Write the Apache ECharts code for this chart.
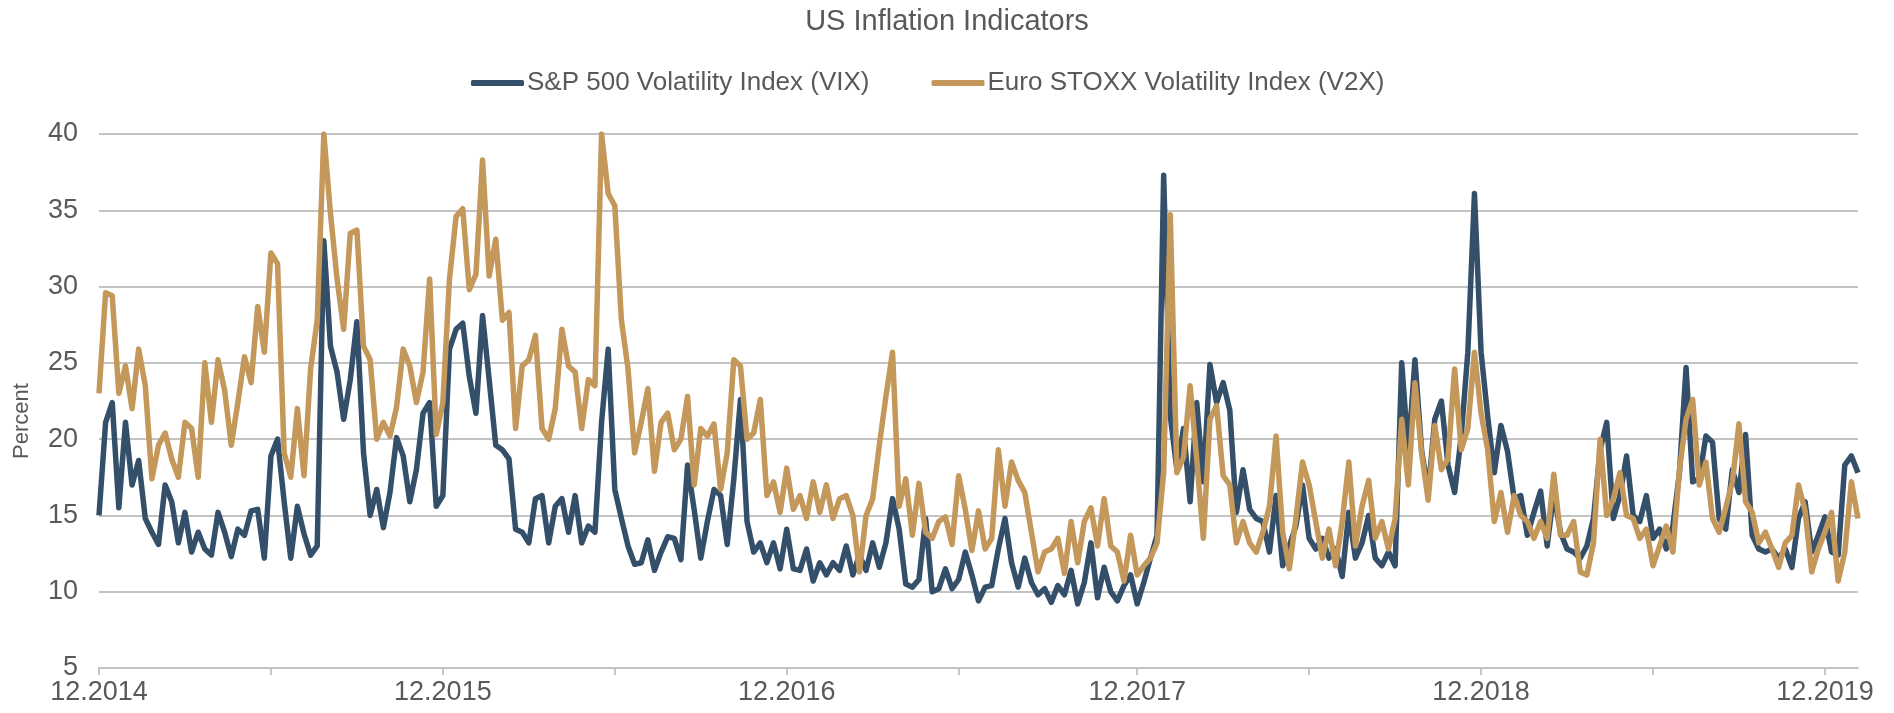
<!DOCTYPE html>
<html>
<head>
<meta charset="utf-8">
<title>US Inflation Indicators</title>
<script src="https://cdn.jsdelivr.net/npm/echarts@6/dist/echarts.min.js"></script>
<style>
  html, body { margin: 0; padding: 0; background: #fff; }
  #chart { width: 1894px; height: 713px; }
</style>
</head>
<body>
<div id="chart"></div>
<script>
// weekly closes, end of Dec 2014 to end of Jan 2020
const vix = [
  15.0, 21.1, 22.4, 15.5, 21.1, 17.0, 18.6, 14.8, 13.9, 13.1,
  17.0, 15.9, 13.2, 15.2, 12.6, 13.9, 12.8, 12.4, 15.2, 13.9,
  12.3, 14.1, 13.7, 15.3, 15.4, 12.2, 18.9, 20.0, 15.9, 12.2,
  15.6, 13.8, 12.4, 13.0, 33.0, 26.1, 24.4, 21.3, 23.9, 27.7,
  19.1, 15.0, 16.7, 14.2, 16.5, 20.1, 18.9, 15.9, 18.0, 21.7,
  22.4, 15.6, 16.3, 25.9, 27.2, 27.6, 24.1, 21.7, 28.1, 23.9,
  19.6, 19.3, 18.7, 14.1, 13.9, 13.2, 16.1, 16.3, 13.2, 15.6,
  16.1, 13.9, 16.3, 13.2, 14.3, 13.9, 21.1, 25.9, 16.7, 14.8,
  13.0, 11.8, 11.9, 13.4, 11.4, 12.6, 13.6, 13.5, 12.1, 18.3,
  15.4, 12.2, 14.6, 16.7, 16.3, 13.1, 17.4, 22.6, 14.6, 12.6,
  13.2, 11.9, 13.2, 11.5, 14.1, 11.5, 11.4, 12.8, 10.7, 11.9,
  11.1, 11.9, 11.4, 13.0, 11.1, 12.4, 11.4, 13.2, 11.6, 13.2,
  16.1, 14.1, 10.5, 10.3, 10.8, 14.8, 10.0, 10.2, 11.5, 10.2,
  10.8, 12.6, 11.1, 9.4, 10.3, 10.4, 12.8, 14.8, 11.9, 10.3,
  12.2, 10.6, 9.8, 10.2, 9.3, 10.4, 9.8, 11.4, 9.2, 10.6,
  13.2, 9.6, 11.6, 10.0, 9.4, 10.4, 11.1, 9.2, 10.6, 12.2,
  13.7, 37.3, 21.5, 18.0, 20.7, 15.9, 22.4, 17.2, 24.9, 22.4,
  23.7, 21.9, 15.2, 18.0, 15.4, 14.8, 14.6, 12.6, 16.3, 11.7,
  13.0, 14.3, 17.0, 13.5, 12.8, 13.5, 12.2, 12.8, 11.0, 15.2,
  12.2, 13.2, 15.0, 12.2, 11.7, 12.6, 11.7, 25.0, 19.1, 25.2,
  19.3, 16.5, 21.3, 22.5, 18.3, 16.5, 20.2, 25.7, 36.1, 25.7,
  21.5, 17.8, 20.9, 19.2, 16.1, 16.3, 13.7, 15.2, 16.6, 13.0,
  16.5, 13.9, 12.8, 12.6, 12.2, 13.0, 14.8, 19.3, 21.1, 14.8,
  16.3, 18.9, 15.0, 14.6, 16.3, 13.5, 14.1, 12.8, 14.3, 17.8,
  24.7, 17.2, 17.4, 20.2, 19.8, 14.8, 14.1, 18.0, 16.5, 20.3,
  13.7, 12.8, 12.6, 12.8, 12.2, 12.8, 11.6, 14.8, 15.9, 12.6,
  13.7, 14.9, 12.6, 12.4, 18.3, 18.9, 17.8
];

const v2x = [
  23.0, 29.6, 29.4, 23.0, 24.8, 22.0, 25.9, 23.5, 17.4, 19.6,
  20.4, 18.7, 17.5, 21.1, 20.7, 17.5, 25.0, 21.1, 25.2, 23.2,
  19.6, 22.4, 25.4, 23.7, 28.7, 25.7, 32.2, 31.5, 19.1, 17.5,
  22.0, 17.6, 24.6, 27.8, 40.0, 34.8, 30.5, 27.2, 33.5, 33.7,
  26.1, 25.2, 20.0, 21.1, 20.2, 22.1, 25.9, 24.8, 22.4, 24.4,
  30.5, 20.3, 22.4, 30.5, 34.6, 35.1, 29.8, 30.8, 38.3, 30.7,
  33.1, 27.8, 28.3, 20.7, 24.8, 25.2, 26.8, 20.7, 20.0, 22.0,
  27.2, 24.8, 24.4, 20.7, 23.9, 23.5, 40.0, 36.1, 35.3, 27.8,
  24.6, 19.1, 21.1, 23.3, 17.9, 21.1, 21.7, 19.3, 20.0, 22.8,
  17.0, 20.7, 20.2, 21.0, 16.7, 19.1, 25.2, 24.8, 20.0, 20.4,
  22.6, 16.3, 17.2, 15.2, 18.1, 15.4, 16.3, 14.8, 17.2, 15.2,
  17.0, 14.8, 16.1, 16.3, 15.0, 11.3, 15.0, 16.1, 19.6, 22.8,
  25.7, 15.6, 17.4, 13.7, 17.1, 13.9, 13.5, 14.6, 14.9, 13.1,
  17.6, 15.4, 12.7, 15.3, 12.8, 13.5, 19.3, 15.6, 18.5, 17.3,
  16.5, 13.9, 11.3, 12.6, 12.8, 13.5, 11.2, 14.6, 11.9, 14.6,
  15.5, 13.0, 16.1, 13.0, 12.6, 10.7, 13.7, 11.1, 11.7, 12.2,
  13.2, 17.8, 34.7, 17.8, 18.8, 23.5, 18.7, 13.5, 21.3, 22.2,
  17.6, 17.0, 13.2, 14.6, 13.2, 12.6, 13.9, 15.6, 20.2, 13.9,
  11.5, 14.8, 18.5, 17.0, 14.6, 12.2, 14.1, 11.7, 14.6, 18.5,
  13.0, 15.6, 17.3, 13.5, 14.6, 12.8, 14.8, 21.3, 17.0, 23.7,
  19.1, 16.0, 20.9, 18.0, 18.7, 24.6, 19.3, 20.7, 25.7, 21.7,
  19.3, 14.6, 16.5, 13.9, 16.3, 15.0, 14.6, 13.5, 14.6, 13.5,
  17.7, 13.7, 13.7, 14.6, 11.3, 11.1, 13.2, 20.0, 15.0, 16.1,
  17.8, 15.0, 14.8, 13.5, 14.1, 11.7, 13.0, 14.3, 12.6, 18.0,
  21.3, 22.6, 17.0, 18.5, 14.8, 13.9, 15.5, 17.2, 21.0, 15.9,
  15.2, 13.2, 13.9, 12.8, 11.6, 13.2, 13.7, 17.0, 15.3, 11.3,
  12.8, 13.9, 15.2, 10.7, 12.6, 17.2, 14.8
];

// x axis: one category per week, labels at year ends, ticks every half year
const weeks = vix.map((v, i) => String(i));
const yearLabels = ['12.2014', '12.2015', '12.2016', '12.2017', '12.2018', '12.2019'];
const yearIdx = [0, 52, 104, 157, 209, 261];
const halfIdx = [26, 78, 130, 183, 235];

const textColor = '#595959';
const gridColor = '#c3c3c3';
const fontFamily = 'Liberation Sans';

const myChart = echarts.init(document.getElementById('chart'));

const option = {
  backgroundColor: '#ffffff',
  animation: false,
  title: {
    text: 'US Inflation Indicators',
    left: 'center',
    top: 2,
    textStyle: {
      fontFamily: fontFamily,
      fontSize: 29,
      fontWeight: 'normal',
      color: textColor,
    },
  },
  legend: {
    left: 466,
    top: 65,
    icon: 'roundRect',
    itemWidth: 53,
    itemHeight: 6,
    itemGap: 62,
    textStyle: {
      fontFamily: fontFamily,
      fontSize: 26,
      color: textColor,
      padding: [0, 0, 0, -2],
    },
    data: ['S&P 500 Volatility Index (VIX)', 'Euro STOXX Volatility Index (V2X)'],
  },
  grid: {
    left: 99,
    right: 36,
    top: 134,
    bottom: 45,
  },
  xAxis: {
    type: 'category',
    data: weeks,
    boundaryGap: false,
    axisLine: { lineStyle: { color: gridColor, width: 2 } },
    axisTick: {
      interval: (i) => yearIdx.includes(i) || halfIdx.includes(i),
      length: 7,
      lineStyle: { color: gridColor, width: 2 },
    },
    axisLabel: {
      interval: (i) => yearIdx.includes(i),
      formatter: (v, i) => yearLabels[yearIdx.indexOf(i)] || '',
      fontFamily: fontFamily,
      fontSize: 27,
      color: textColor,
      margin: 11,
    },
    splitLine: { show: false },
  },
  yAxis: {
    type: 'value',
    min: 5,
    max: 40,
    interval: 5,
    name: 'Percent',
    nameLocation: 'middle',
    nameGap: 66,
    nameTextStyle: {
      fontFamily: fontFamily,
      fontSize: 22,
      color: textColor,
      padding: [0, 0, 0, -40],
    },
    axisLine: { show: false },
    axisTick: { show: false },
    axisLabel: {
      fontFamily: fontFamily,
      fontSize: 27,
      color: textColor,
      margin: 21,
    },
    splitLine: { lineStyle: { color: gridColor, width: 2 } },
  },
  series: [
    {
      name: 'S&P 500 Volatility Index (VIX)',
      type: 'line',
      data: vix,
      showSymbol: false,
      color: '#344f6a',
      lineStyle: { width: 5.5, color: '#344f6a', join: 'round' },
    },
    {
      name: 'Euro STOXX Volatility Index (V2X)',
      type: 'line',
      data: v2x,
      showSymbol: false,
      color: '#c4975a',
      lineStyle: { width: 5.5, color: '#c4975a', join: 'round' },
    },
  ],
}

option && myChart.setOption(option)
</script>
</body>
</html>
